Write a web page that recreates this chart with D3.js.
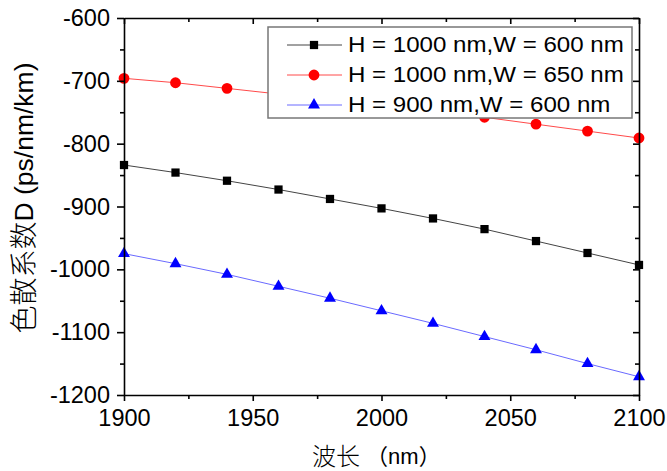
<!DOCTYPE html>
<html>
<head>
<meta charset="utf-8">
<script src="https://cdn.jsdelivr.net/npm/d3@7"></script>
<style>
  html, body { margin: 0; padding: 0; background: #fff; }
  svg { display: block; }
  text { font-family: "Liberation Sans", Arial, sans-serif; fill: #000; }
  .cjk { font-family: "Liberation Sans", "Noto Sans CJK SC", sans-serif; }
  .han { font-family: "Noto Sans CJK SC", sans-serif; font-weight: 300; }
</style>
</head>
<body>
<script>
// Wavelength (nm)
const wavelengths = [1900, 1920, 1940, 1960, 1980, 2000, 2020, 2040, 2060, 2080, 2100];
// Dispersion D (ps/nm/km) for each waveguide geometry
const dH1000W600 = [-834, -846, -859, -873, -888, -903, -919, -936, -955, -974, -993];
const dH1000W650 = [-696, -703, -712, -721, -730, -739, -748, -758, -769, -780, -791];
const dH900W600  = [-975, -991, -1008, -1027, -1046, -1066, -1086, -1107, -1128, -1150, -1171];
const seriesNames = ["H = 1000 nm,W = 600 nm", "H = 1000 nm,W = 650 nm", "H = 900 nm,W = 600 nm"];
const xTicks = [1900, 1950, 2000, 2050, 2100];
const xMinor = [1925, 1975, 2025, 2075];
const yTicks = [-600, -700, -800, -900, -1000, -1100, -1200];
const yMinor = [-650, -750, -850, -950, -1050, -1150];
// axis titles, split into Han and Latin runs
const xTitleParts = ["波长", " （nm）"];
const yTitleParts = ["色散系数", "D (ps/nm/km)"];

const W = 667, H = 471;
const m = { left: 124, top: 18, right: 28, bottom: 76 };
const pw = W - m.left - m.right, ph = H - m.top - m.bottom;

const svg = d3.select("body").append("svg").attr("width", W).attr("height", H);
const g = svg.append("g").attr("transform", `translate(${m.left},${m.top})`);

const x = d3.scaleLinear().domain([1900, 2100]).range([0, pw]);
const y = d3.scaleLinear().domain([-1200, -600]).range([ph, 0]);

const series = [
  { name: seriesNames[0], values: dH1000W600, line: "#444", fill: "#000", shape: "square" },
  { name: seriesNames[1], values: dH1000W650, line: "#ff4a4a", fill: "#ff0000", shape: "circle" },
  { name: seriesNames[2], values: dH900W600,  line: "#6a6aff", fill: "#0000ff", shape: "triangle" }
];

const symbolFor = s => s.shape === "square" ? d3.symbol(d3.symbolSquare, 68)
  : s.shape === "circle" ? d3.symbol(d3.symbolCircle, 92)
  : d3.symbol(d3.symbolTriangle, 62);

// data lines and markers
const line = d3.line().x(d => x(d[0])).y(d => y(d[1]));
series.forEach(s => {
  const pts = wavelengths.map((w, i) => [w, s.values[i]]);
  g.append("path").datum(pts).attr("d", line)
    .attr("fill", "none").attr("stroke", s.line).attr("stroke-width", 1);
  g.selectAll(null).data(pts).enter().append("path")
    .attr("d", symbolFor(s)())
    .attr("transform", d => `translate(${x(d[0])},${y(d[1])})`)
    .attr("fill", s.fill);
});

// axes: outward ticks on bottom/left, inward on top/right
function styleAxis(sel) {
  sel.select(".domain").attr("stroke", "#000").attr("stroke-width", 1.6);
  sel.selectAll(".tick line").attr("stroke", "#000").attr("stroke-width", 1.6);
}
const plain = d => String(d);
const axBottom = g.append("g").attr("transform", `translate(0,${ph})`)
  .call(d3.axisBottom(x).tickValues(xTicks).tickSize(6).tickPadding(8).tickSizeOuter(0).tickFormat(plain));
axBottom.selectAll("text").attr("font-size", 23.5);
g.append("g").attr("transform", `translate(0,${ph})`)
  .call(d3.axisBottom(x).tickValues(xMinor).tickSize(4).tickFormat("")).call(s => s.select(".domain").remove())
  .call(styleAxis);
styleAxis(axBottom);

const axLeft = g.append("g")
  .call(d3.axisLeft(y).tickValues(yTicks).tickSize(7).tickPadding(7).tickSizeOuter(0).tickFormat(plain));
axLeft.selectAll("text").attr("font-size", 23.5);
g.append("g").call(d3.axisLeft(y).tickValues(yMinor).tickSize(4).tickFormat(""))
  .call(s => s.select(".domain").remove()).call(styleAxis);
styleAxis(axLeft);

const axTop = g.append("g")
  .call(d3.axisTop(x).tickValues(xTicks).tickSize(-6).tickSizeOuter(0).tickFormat(""));
g.append("g").call(d3.axisTop(x).tickValues(xMinor).tickSize(-4).tickFormat(""))
  .call(s => s.select(".domain").remove()).call(styleAxis);
styleAxis(axTop);

const axRight = g.append("g").attr("transform", `translate(${pw},0)`)
  .call(d3.axisRight(y).tickValues(yTicks).tickSize(-6).tickSizeOuter(0).tickFormat(""));
g.append("g").attr("transform", `translate(${pw},0)`)
  .call(d3.axisRight(y).tickValues(yMinor).tickSize(-4).tickFormat(""))
  .call(s => s.select(".domain").remove()).call(styleAxis);
styleAxis(axRight);

// axis titles
const xt = svg.append("text").attr("class", "cjk")
  .attr("x", 312).attr("y", 458)
  .attr("text-anchor", "start").attr("dominant-baseline", "middle");
xt.append("tspan").attr("class", "han").attr("font-size", 24).text(xTitleParts[0]);
xt.append("tspan").attr("class", "cjk").attr("font-size", 22).text(xTitleParts[1]);

const yt = svg.append("text")
  .attr("transform", `translate(26,198) rotate(-90)`)
  .attr("text-anchor", "middle").attr("dominant-baseline", "middle");
yt.append("tspan").attr("class", "han").attr("font-size", 28).text(yTitleParts[0]);
yt.append("tspan").attr("class", "cjk").attr("font-size", 26.5).text(yTitleParts[1]);

// legend
const lg = svg.append("g").attr("transform", "translate(268,27)");
lg.append("rect").attr("width", 364).attr("height", 91)
  .attr("fill", "#fff").attr("stroke", "#777").attr("stroke-width", 1.5);
series.forEach((s, i) => {
  const ry = 18 + i * 30;
  lg.append("line").attr("x1", 19).attr("x2", 74).attr("y1", ry).attr("y2", ry)
    .attr("stroke", s.line).attr("stroke-width", 1);
  lg.append("path").attr("d", symbolFor(s)()).attr("transform", `translate(46,${ry})`).attr("fill", s.fill);
  const t = lg.append("text").attr("x", 80).attr("y", ry + 1).attr("dominant-baseline", "middle")
    .attr("font-size", 21.5).text(s.name);
  // slightly widened lettering
  const w = t.node().getComputedTextLength();
  t.attr("textLength", w * 1.12).attr("lengthAdjust", "spacingAndGlyphs");
});
</script>
</body>
</html>
